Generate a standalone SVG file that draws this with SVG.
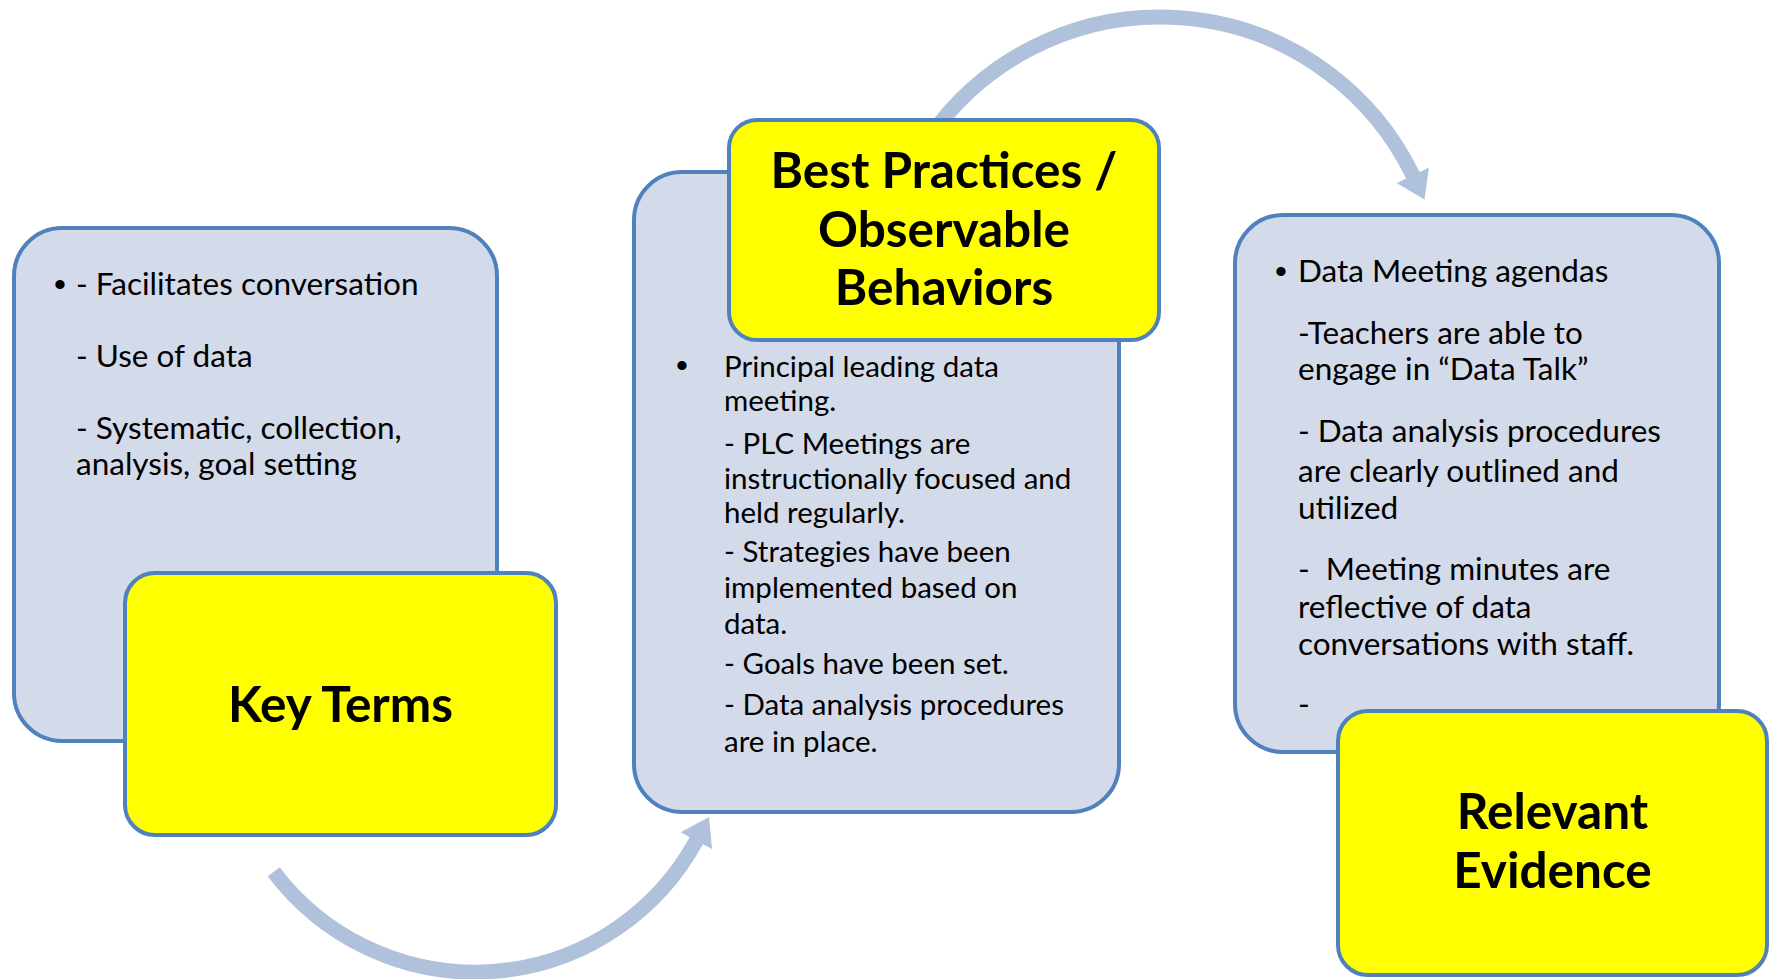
<svg xmlns="http://www.w3.org/2000/svg" width="1773" height="979" viewBox="0 0 1773 979">
  <defs>
    <style>
      .panel { fill: #D3DAEA; stroke: #4F81BD; stroke-width: 4; }
      .label { fill: #FFFF00; stroke: #4F81BD; stroke-width: 4; }
      .head { font-family: Lato, "Liberation Sans", sans-serif; font-weight: bold; font-size: 49.5px; fill: #000; text-anchor: middle; }
      .body { font-family: Lato, "Liberation Sans", sans-serif; font-size: 31.5px; fill: #000; }
      .body2 { font-family: Lato, "Liberation Sans", sans-serif; font-size: 29.5px; fill: #000; }
      .bullet { font-family: "Liberation Sans", sans-serif; font-size: 34px; fill: #000; text-anchor: middle; }
      .flow { fill: none; stroke: #B0C1DC; stroke-width: 15; stroke-linecap: butt; }
    </style>
    <marker id="flow-head" markerUnits="userSpaceOnUse" markerWidth="30" markerHeight="40" refX="1" refY="18" orient="auto">
      <path d="M0,0 L27,18 L0,36 Z" fill="#B0C1DC"/>
    </marker>
  </defs>

  <rect width="1773" height="979" fill="#FFFFFF"/>

  <!-- curved flow arrows between the three stages -->
  <g id="connectors">
    <path class="flow" d="M 273.7 871.7 A 252 252 0 0 0 696.7 839.9" marker-end="url(#flow-head)"/>
    <path class="flow" d="M 929.8 136.8 A 281 281 0 0 1 1413.2 176.1" marker-end="url(#flow-head)"/>
  </g>

  <!-- stage 1: key terms -->
  <g id="key-terms">
    <rect class="panel" x="14" y="228" width="483" height="513" rx="48" ry="48"/>
    <text class="bullet" x="60" y="296">•</text>
    <text class="body" x="76" y="295">- Facilitates conversation</text>
    <text class="body" x="76" y="367">- Use of data</text>
    <text class="body" x="76" y="439">- Systematic, collection,</text>
    <text class="body" x="76" y="475">analysis, goal setting</text>
    <rect class="label" x="125" y="573" width="431" height="262" rx="30" ry="30"/>
    <text class="head" x="340.5" y="722">Key Terms</text>
  </g>

  <!-- stage 2: best practices / observable behaviors -->
  <g id="best-practices">
    <rect class="panel" x="634" y="172" width="485" height="640" rx="48" ry="48"/>
    <text class="bullet" x="682" y="377">•</text>
    <text class="body2" x="724" y="377">Principal leading data</text>
    <text class="body2" x="724" y="411">meeting.</text>
    <text class="body2" x="724" y="454">- PLC Meetings are</text>
    <text class="body2" x="724" y="489">instructionally focused and</text>
    <text class="body2" x="724" y="523">held regularly.</text>
    <text class="body2" x="724" y="562">- Strategies have been</text>
    <text class="body2" x="724" y="598">implemented based on</text>
    <text class="body2" x="724" y="634">data.</text>
    <text class="body2" x="724" y="674">- Goals have been set.</text>
    <text class="body2" x="724" y="715">- Data analysis procedures</text>
    <text class="body2" x="724" y="752">are in place.</text>
    <rect class="label" x="729" y="120" width="430" height="220" rx="28" ry="28"/>
    <text class="head" x="944" y="188">Best Practices /</text>
    <text class="head" x="944" y="247">Observable</text>
    <text class="head" x="944" y="305">Behaviors</text>
  </g>

  <!-- stage 3: relevant evidence -->
  <g id="relevant-evidence">
    <rect class="panel" x="1235" y="215" width="484" height="537" rx="48" ry="48"/>
    <text class="bullet" x="1281" y="283">•</text>
    <text class="body" x="1298" y="282">Data Meeting agendas</text>
    <text class="body" x="1298" y="344">-Teachers are able to</text>
    <text class="body" x="1298" y="380">engage in “Data Talk”</text>
    <text class="body" x="1298" y="442">- Data analysis procedures</text>
    <text class="body" x="1298" y="482">are clearly outlined and</text>
    <text class="body" x="1298" y="519">utilized</text>
    <text class="body" x="1298" y="580" xml:space="preserve">-  Meeting minutes are</text>
    <text class="body" x="1298" y="618">reflective of data</text>
    <text class="body" x="1298" y="655">conversations with staff.</text>
    <text class="body" x="1298" y="715">-</text>
    <rect class="label" x="1338" y="711" width="429" height="264" rx="30" ry="30"/>
    <text class="head" x="1552.5" y="829">Relevant</text>
    <text class="head" x="1552.5" y="888">Evidence</text>
  </g>
</svg>
